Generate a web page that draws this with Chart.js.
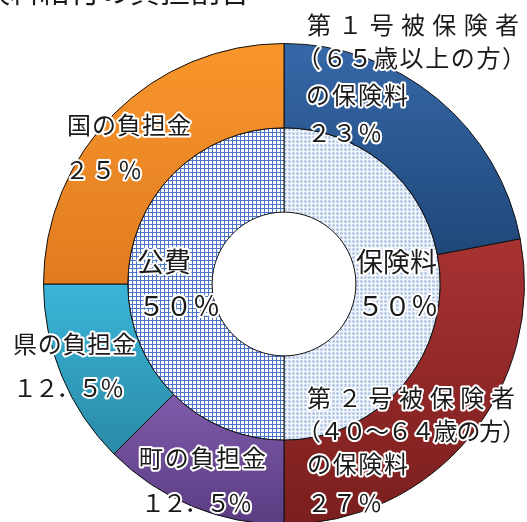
<!DOCTYPE html>
<html lang="ja">
<head>
<meta charset="utf-8">
<script src="https://cdn.jsdelivr.net/npm/chart.js@4.4.1/dist/chart.umd.min.js"></script>
<style>
  html, body { margin: 0; padding: 0; background: #fff; overflow: hidden; width: 527px; height: 522px; }
  #wrap { position: absolute; left: 0; top: 0; width: 568px; height: 568px; }
</style>
</head>
<body>
<div id="wrap"><canvas id="chart"></canvas></div>
<script>
// data
const title          = "介護保険料給付の負担割合"
const outerLabels    = ["第１号被保険者の保険料", "第２号被保険者の保険料", "町の負担金", "県の負担金", "国の負担金"]
const outerValues    = [22, 28, 12.5, 12.5, 25]
const outerPctText   = ["２３％", "２７％", "１２．５％", "１２．５％", "２５％"]
const innerLabels    = ["保険料", "公費"]
const innerValues    = [50, 50]
const innerPctText   = ["５０％", "５０％"]

// styles
const outerTop    = ["#3668a8", "#a83232", "#7f5ba9", "#3ab5d9", "#f8962c"]
const outerBottom = ["#1f4779", "#7a1e1e", "#5a3c82", "#2a8aa5", "#e07c20"]
const CUT = 0.299
const textColor = "#1a1a1a"
const jpFont = "'Noto Sans CJK JP', 'Noto Sans', sans-serif"

// label layout: [text, left, centerY, width]
const outerLabelLines = [
  [["第１号被保険者", 307, 25, 212], ["（６５歳以上の方）", 297, 58, 229], ["の保険料", 306, 95, 102], [outerPctText[0], 307, 133, 75]],
  [["第２号被保険者", 307, 398, 208], ["（４０～６４歳の方）", 297, 431, 229], ["の保険料", 307, 464, 101], [outerPctText[1], 307, 503, 75]],
  [["町の負担金", 139, 458, 127], [outerPctText[2], 141, 503, 111]],
  [["県の負担金", 13, 344, 123], [outerPctText[3], 13, 388, 111]],
  [["国の負担金", 67, 125, 124], [outerPctText[4], 65, 170, 77]]
]
const innerLabelLines = [
  [["保険料", 356, 262, 81], [innerPctText[0], 357, 306, 81]],
  [["公費", 137, 262, 54], [innerPctText[1], 138, 306, 82]]
]

function makePattern(draw) {
  const c = document.createElement("canvas")
  c.width = 4; c.height = 4
  const p = c.getContext("2d")
  draw(p)
  return p.createPattern(c, "repeat")
}

const gridPattern = makePattern(p => {
  p.fillStyle = "#ffffff"; p.fillRect(0, 0, 4, 4)
  p.fillStyle = "#4a74c9"; p.fillRect(0, 0, 1, 4); p.fillRect(0, 0, 4, 1)
})
const dotPattern = makePattern(p => {
  p.fillStyle = "#c9d7ef"; p.fillRect(0, 0, 4, 4)
  p.fillStyle = "#f4f7fc"; p.fillRect(3, 0, 1, 4); p.fillRect(0, 3, 4, 1)
  p.fillStyle = "#97b0dc"; p.fillRect(1, 1, 1, 1)
})

function ringGradient(ctx) {
  const i = ctx.dataIndex
  const chart = ctx.chart
  const area = chart.chartArea
  if (!area || i === undefined) return outerTop[i] || outerTop[0]
  const cx = (area.left + area.right) / 2
  const cy = (area.top + area.bottom) / 2
  const R = Math.min(area.right - area.left, area.bottom - area.top) / 2
  const rIn = R * CUT + (R - R * CUT) / 2
  const sum = outerValues.reduce((a, b) => a + b, 0)
  const before = outerValues.slice(0, i).reduce((a, b) => a + b, 0)
  const a0 = -Math.PI / 2 + 2 * Math.PI * before / sum
  const a1 = -Math.PI / 2 + 2 * Math.PI * (before + outerValues[i]) / sum
  let ymin = Infinity, ymax = -Infinity
  for (let k = 0; k <= 60; k++) {
    const a = a0 + (a1 - a0) * k / 60
    for (const r of [rIn, R]) {
      const y = cy + r * Math.sin(a)
      ymin = Math.min(ymin, y); ymax = Math.max(ymax, y)
    }
  }
  const g = chart.ctx.createLinearGradient(0, ymin, 0, ymax)
  g.addColorStop(0, outerTop[i])
  g.addColorStop(1, outerBottom[i])
  return g
}

function drawLine(ctx, text, x, y, w, pass) {
  const chars = [...text]
  const widths = chars.map(c => ctx.measureText(c).width)
  const total = widths.reduce((a, b) => a + b, 0)
  const gap = chars.length > 1 ? (w - total) / (chars.length - 1) : 0
  let cx = x
  chars.forEach((c, k) => {
    if (pass === "stroke") ctx.strokeText(c, cx, y)
    else ctx.fillText(c, cx, y)
    cx += widths[k] + gap
  })
}

const labelPlugin = {
  id: "labels",
  afterDatasetsDraw(chart) {
    const ctx = chart.ctx
    ctx.save()
    ctx.textAlign = "left"
    ctx.textBaseline = "middle"
    ctx.lineJoin = "round"
    ctx.strokeStyle = "#ffffff"
    ctx.fillStyle = textColor
    const groups = [[outerLabelLines, 24], [innerLabelLines, 27]]
    for (const pass of ["stroke", "fill"]) {
      for (const [blocks, size] of groups) {
        ctx.font = `${size}px ${jpFont}`
        ctx.lineWidth = 4
        blocks.forEach(lines => lines.forEach(([t, x, y, w]) => drawLine(ctx, t, x, y, w, pass)))
      }
    }
    // title, clipped by the top edge
    ctx.font = `30px ${jpFont}`
    ctx.textAlign = "right"
    ctx.textBaseline = "alphabetic"
    ctx.fillText(title, 250, 2)
    ctx.restore()
  }
}

new Chart(document.getElementById("chart"), {
  type: "doughnut",
  data: {
    labels: outerLabels,
    datasets: [
      {
        label: "内訳",
        data: outerValues,
        backgroundColor: ringGradient,
        borderColor: "#111",
        borderWidth: 1
      },
      {
        label: "保険料・公費",
        labels: innerLabels,
        data: innerValues,
        backgroundColor: [dotPattern, gridPattern],
        borderColor: "#111",
        borderWidth: 1
      }
    ]
  },
  options: {
    responsive: true,
    maintainAspectRatio: false,
    animation: false,
    cutout: (CUT * 100) + "%",
    layout: { padding: 43 },
    plugins: {
      legend:  { display: false },
      tooltip: { enabled: false }
    }
  },
  plugins: [labelPlugin]
})
</script>
</body>
</html>
